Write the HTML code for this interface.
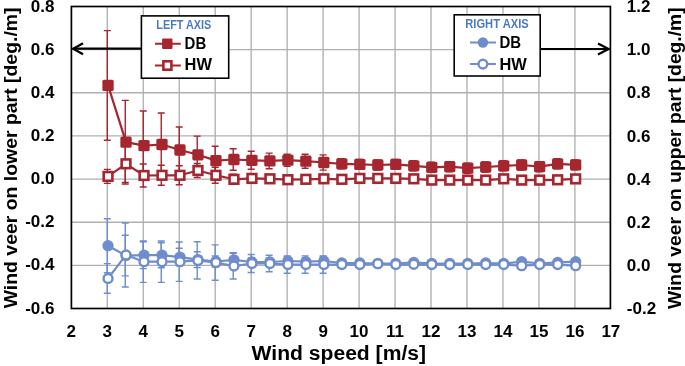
<!DOCTYPE html>
<html><head><meta charset="utf-8"><style>
html,body{margin:0;padding:0;background:#fff;}
body{width:685px;height:366px;overflow:hidden;}
svg{display:block;will-change:transform;}
</style></head><body>
<svg width="685" height="366" viewBox="0 0 685 366">
<rect width="685" height="366" fill="#fff"/>
<path d="M107.29 6.5V308.5M143.26 6.5V308.5M179.23 6.5V308.5M215.2 6.5V308.5M251.17 6.5V308.5M287.14 6.5V308.5M323.11 6.5V308.5M359.08 6.5V308.5M395.05 6.5V308.5M431.02 6.5V308.5M466.99 6.5V308.5M502.96 6.5V308.5M538.93 6.5V308.5M574.9 6.5V308.5M71.4 49.64H610.4M71.4 92.79H610.4M71.4 135.93H610.4M71.4 179.07H610.4M71.4 222.21H610.4M71.4 265.36H610.4" stroke="#B0B0B0" stroke-width="1.35" fill="none"/>
<g stroke="#A5262E" stroke-width="1.4" fill="none"><path d="M107.29 30.6V140.2M103.79 30.6H110.79M103.79 140.2H110.79"/><path d="M125.27 100.4V184M121.77 100.4H128.77M121.77 184H128.77"/><path d="M143.26 111V180.2M139.76 111H146.76M139.76 180.2H146.76"/><path d="M161.25 113V176M157.75 113H164.75M157.75 176H164.75"/><path d="M179.23 127V173M175.73 127H182.73M175.73 173H182.73"/><path d="M197.21 136.1V173.5M193.71 136.1H200.71M193.71 173.5H200.71"/><path d="M215.2 146.3V174.9M211.7 146.3H218.7M211.7 174.9H218.7"/><path d="M233.19 148.7V170.3M229.69 148.7H236.69M229.69 170.3H236.69"/><path d="M251.17 151.3V169.3M247.67 151.3H254.67M247.67 169.3H254.67"/><path d="M269.15 153.1V168.7M265.65 153.1H272.65M265.65 168.7H272.65"/><path d="M287.14 154.2V166.2M283.64 154.2H290.64M283.64 166.2H290.64"/><path d="M305.12 154.2V168.2M301.62 154.2H308.62M301.62 168.2H308.62"/><path d="M323.11 154.9V170.1M319.61 154.9H326.61M319.61 170.1H326.61"/><path d="M341.09 158.8V168.8M337.59 158.8H344.59M337.59 168.8H344.59"/><path d="M359.08 159.4V169.4M355.58 159.4H362.58M355.58 169.4H362.58"/><path d="M377.06 160V170M373.56 160H380.56M373.56 170H380.56"/><path d="M395.05 159.4V169.4M391.55 159.4H398.55M391.55 169.4H398.55"/><path d="M413.03 160.8V170.8M409.53 160.8H416.53M409.53 170.8H416.53"/><path d="M431.02 162.3V172.3M427.52 162.3H434.52M427.52 172.3H434.52"/><path d="M449 161.7V171.7M445.5 161.7H452.5M445.5 171.7H452.5"/><path d="M466.99 163.2V173.2M463.49 163.2H470.49M463.49 173.2H470.49"/><path d="M484.97 162V172M481.47 162H488.47M481.47 172H488.47"/><path d="M502.96 160.8V170.8M499.46 160.8H506.46M499.46 170.8H506.46"/><path d="M520.94 160V170M517.44 160H524.44M517.44 170H524.44"/><path d="M538.93 161.7V171.7M535.43 161.7H542.43M535.43 171.7H542.43"/><path d="M556.91 158.8V168.8M553.41 158.8H560.41M553.41 168.8H560.41"/><path d="M574.9 159.9V169.9M571.4 159.9H578.4M571.4 169.9H578.4"/></g>
<g stroke="#A5262E" stroke-width="1.4" fill="none"><path d="M107.29 169.4V183.4M103.79 169.4H110.79M103.79 183.4H110.79"/><path d="M125.27 145.2V182.4M121.77 145.2H128.77M121.77 182.4H128.77"/><path d="M143.26 164V187M139.76 164H146.76M139.76 187H146.76"/><path d="M161.25 165.3V185.3M157.75 165.3H164.75M157.75 185.3H164.75"/><path d="M179.23 165.8V184.8M175.73 165.8H182.73M175.73 184.8H182.73"/><path d="M197.21 163.5V177.5M193.71 163.5H200.71M193.71 177.5H200.71"/><path d="M215.2 167.3V183.3M211.7 167.3H218.7M211.7 183.3H218.7"/><path d="M233.19 174.3V184.3M229.69 174.3H236.69M229.69 184.3H236.69"/><path d="M251.17 174.4V182.4M247.67 174.4H254.67M247.67 182.4H254.67"/><path d="M269.15 175.8V181.8M265.65 175.8H272.65M265.65 181.8H272.65"/><path d="M287.14 176.7V182.7M283.64 176.7H290.64M283.64 182.7H290.64"/><path d="M305.12 176.3V182.3M301.62 176.3H308.62M301.62 182.3H308.62"/><path d="M323.11 175.8V181.8M319.61 175.8H326.61M319.61 181.8H326.61"/><path d="M341.09 176.3V182.3M337.59 176.3H344.59M337.59 182.3H344.59"/><path d="M359.08 175.4V181.4M355.58 175.4H362.58M355.58 181.4H362.58"/><path d="M377.06 175.4V181.4M373.56 175.4H380.56M373.56 181.4H380.56"/><path d="M395.05 175.4V181.4M391.55 175.4H398.55M391.55 181.4H398.55"/><path d="M413.03 175.8V181.8M409.53 175.8H416.53M409.53 181.8H416.53"/><path d="M431.02 177.1V183.1M427.52 177.1H434.52M427.52 183.1H434.52"/><path d="M449 177.1V183.1M445.5 177.1H452.5M445.5 183.1H452.5"/><path d="M466.99 177.1V183.1M463.49 177.1H470.49M463.49 183.1H470.49"/><path d="M484.97 177.1V183.1M481.47 177.1H488.47M481.47 183.1H488.47"/><path d="M502.96 175.8V181.8M499.46 175.8H506.46M499.46 181.8H506.46"/><path d="M520.94 177.1V183.1M517.44 177.1H524.44M517.44 183.1H524.44"/><path d="M538.93 177.1V183.1M535.43 177.1H542.43M535.43 183.1H542.43"/><path d="M556.91 176.8V182.8M553.41 176.8H560.41M553.41 182.8H560.41"/><path d="M574.9 175.9V181.9M571.4 175.9H578.4M571.4 181.9H578.4"/></g>
<g stroke="#6F8DCC" stroke-width="1.4" fill="none"><path d="M107.29 218.7V272.7M103.79 218.7H110.79M103.79 272.7H110.79"/><path d="M125.27 235.3V275.9M121.77 235.3H128.77M121.77 275.9H128.77"/><path d="M143.26 241.8V268.6M139.76 241.8H146.76M139.76 268.6H146.76"/><path d="M161.25 242.7V267.7M157.75 242.7H164.75M157.75 267.7H164.75"/><path d="M179.23 248.3V265.9M175.73 248.3H182.73M175.73 265.9H182.73"/><path d="M197.21 251.7V267.5M193.71 251.7H200.71M193.71 267.5H200.71"/><path d="M215.2 256V267M211.7 256H218.7M211.7 267H218.7"/><path d="M233.19 252.7V266.9M229.69 252.7H236.69M229.69 266.9H236.69"/><path d="M251.17 258V266M247.67 258H254.67M247.67 266H254.67"/><path d="M269.15 258V266M265.65 258H272.65M265.65 266H272.65"/><path d="M287.14 257V265M283.64 257H290.64M283.64 265H290.64"/><path d="M305.12 257.7V265.7M301.62 257.7H308.62M301.62 265.7H308.62"/><path d="M323.11 257V265M319.61 257H326.61M319.61 265H326.61"/><path d="M341.09 260V266M337.59 260H344.59M337.59 266H344.59"/><path d="M359.08 260V266M355.58 260H362.58M355.58 266H362.58"/><path d="M377.06 260.5V266.5M373.56 260.5H380.56M373.56 266.5H380.56"/><path d="M395.05 260.5V266.5M391.55 260.5H398.55M391.55 266.5H398.55"/><path d="M413.03 259.4V265.4M409.53 259.4H416.53M409.53 265.4H416.53"/><path d="M431.02 260.5V266.5M427.52 260.5H434.52M427.52 266.5H434.52"/><path d="M449 260.5V266.5M445.5 260.5H452.5M445.5 266.5H452.5"/><path d="M466.99 260.5V266.5M463.49 260.5H470.49M463.49 266.5H470.49"/><path d="M484.97 260V266M481.47 260H488.47M481.47 266H488.47"/><path d="M502.96 260.5V266.5M499.46 260.5H506.46M499.46 266.5H506.46"/><path d="M520.94 258.7V264.7M517.44 258.7H524.44M517.44 264.7H524.44"/><path d="M538.93 260.5V266.5M535.43 260.5H542.43M535.43 266.5H542.43"/><path d="M556.91 259.4V265.4M553.41 259.4H560.41M553.41 265.4H560.41"/><path d="M574.9 258.7V264.7M571.4 258.7H578.4M571.4 264.7H578.4"/></g>
<g stroke="#6F8DCC" stroke-width="1.4" fill="none"><path d="M107.29 263.6V293.2M103.79 263.6H110.79M103.79 293.2H110.79"/><path d="M125.27 223V287M121.77 223H128.77M121.77 287H128.77"/><path d="M143.26 241V282.4M139.76 241H146.76M139.76 282.4H146.76"/><path d="M161.25 241V282.4M157.75 241H164.75M157.75 282.4H164.75"/><path d="M179.23 242V281.4M175.73 242H182.73M175.73 281.4H182.73"/><path d="M197.21 241.8V279M193.71 241.8H200.71M193.71 279H200.71"/><path d="M215.2 244.9V280.3M211.7 244.9H218.7M211.7 280.3H218.7"/><path d="M233.19 253.2V279M229.69 253.2H236.69M229.69 279H236.69"/><path d="M251.17 254.5V272.5M247.67 254.5H254.67M247.67 272.5H254.67"/><path d="M269.15 255.2V271.8M265.65 255.2H272.65M265.65 271.8H272.65"/><path d="M287.14 255.9V273.3M283.64 255.9H290.64M283.64 273.3H290.64"/><path d="M305.12 255.9V273.3M301.62 255.9H308.62M301.62 273.3H308.62"/><path d="M323.11 255.9V273.3M319.61 255.9H326.61M319.61 273.3H326.61"/><path d="M341.09 261.6V267.6M337.59 261.6H344.59M337.59 267.6H344.59"/><path d="M359.08 261.6V267.6M355.58 261.6H362.58M355.58 267.6H362.58"/><path d="M377.06 260.7V266.7M373.56 260.7H380.56M373.56 266.7H380.56"/><path d="M395.05 261.6V267.6M391.55 261.6H398.55M391.55 267.6H398.55"/><path d="M413.03 261.3V267.3M409.53 261.3H416.53M409.53 267.3H416.53"/><path d="M431.02 261.6V267.6M427.52 261.6H434.52M427.52 267.6H434.52"/><path d="M449 261.6V267.6M445.5 261.6H452.5M445.5 267.6H452.5"/><path d="M466.99 261.6V267.6M463.49 261.6H470.49M463.49 267.6H470.49"/><path d="M484.97 261.6V267.6M481.47 261.6H488.47M481.47 267.6H488.47"/><path d="M502.96 261.6V267.6M499.46 261.6H506.46M499.46 267.6H506.46"/><path d="M520.94 262.7V268.7M517.44 262.7H524.44M517.44 268.7H524.44"/><path d="M538.93 261.6V267.6M535.43 261.6H542.43M535.43 267.6H542.43"/><path d="M556.91 261.6V267.6M553.41 261.6H560.41M553.41 267.6H560.41"/><path d="M574.9 262.7V268.7M571.4 262.7H578.4M571.4 268.7H578.4"/></g>
<polyline points="108.04,85.4 126.02,142.2 144.01,145.6 162,144.5 179.98,150 197.96,154.8 215.95,160.6 233.94,159.5 251.92,160.3 269.9,160.9 287.89,160.2 305.88,161.2 323.86,162.5 341.84,163.8 359.83,164.4 377.81,165 395.8,164.4 413.78,165.8 431.77,167.3 449.75,166.7 467.74,168.2 485.72,167 503.71,165.8 521.69,165 539.68,166.7 557.66,163.8 575.65,164.9" fill="none" stroke="#A5262E" stroke-width="2.2" stroke-linejoin="round"/>
<g fill="#A5262E"><rect x="102.39" y="79.75" width="11.3" height="11.3" rx="1.6"/><rect x="120.37" y="136.55" width="11.3" height="11.3" rx="1.6"/><rect x="138.36" y="139.95" width="11.3" height="11.3" rx="1.6"/><rect x="156.34" y="138.85" width="11.3" height="11.3" rx="1.6"/><rect x="174.33" y="144.35" width="11.3" height="11.3" rx="1.6"/><rect x="192.31" y="149.15" width="11.3" height="11.3" rx="1.6"/><rect x="210.3" y="154.95" width="11.3" height="11.3" rx="1.6"/><rect x="228.28" y="153.85" width="11.3" height="11.3" rx="1.6"/><rect x="246.27" y="154.65" width="11.3" height="11.3" rx="1.6"/><rect x="264.25" y="155.25" width="11.3" height="11.3" rx="1.6"/><rect x="282.24" y="154.55" width="11.3" height="11.3" rx="1.6"/><rect x="300.23" y="155.55" width="11.3" height="11.3" rx="1.6"/><rect x="318.21" y="156.85" width="11.3" height="11.3" rx="1.6"/><rect x="336.19" y="158.15" width="11.3" height="11.3" rx="1.6"/><rect x="354.18" y="158.75" width="11.3" height="11.3" rx="1.6"/><rect x="372.17" y="159.35" width="11.3" height="11.3" rx="1.6"/><rect x="390.15" y="158.75" width="11.3" height="11.3" rx="1.6"/><rect x="408.13" y="160.15" width="11.3" height="11.3" rx="1.6"/><rect x="426.12" y="161.65" width="11.3" height="11.3" rx="1.6"/><rect x="444.11" y="161.05" width="11.3" height="11.3" rx="1.6"/><rect x="462.09" y="162.55" width="11.3" height="11.3" rx="1.6"/><rect x="480.07" y="161.35" width="11.3" height="11.3" rx="1.6"/><rect x="498.06" y="160.15" width="11.3" height="11.3" rx="1.6"/><rect x="516.04" y="159.35" width="11.3" height="11.3" rx="1.6"/><rect x="534.03" y="161.05" width="11.3" height="11.3" rx="1.6"/><rect x="552.01" y="158.15" width="11.3" height="11.3" rx="1.6"/><rect x="570" y="159.25" width="11.3" height="11.3" rx="1.6"/></g>
<polyline points="108.04,176.4 126.02,163.8 144.01,175.5 162,175.3 179.98,175.3 197.96,170.5 215.95,175.3 233.94,179.3 251.92,178.4 269.9,178.8 287.89,179.7 305.88,179.3 323.86,178.8 341.84,179.3 359.83,178.4 377.81,178.4 395.8,178.4 413.78,178.8 431.77,180.1 449.75,180.1 467.74,180.1 485.72,180.1 503.71,178.8 521.69,180.1 539.68,180.1 557.66,179.8 575.65,178.9" fill="none" stroke="#A5262E" stroke-width="2.2" stroke-linejoin="round"/>
<g fill="#fff" stroke="#A5262E" stroke-width="2.6"><rect x="103.69" y="172.05" width="8.7" height="8.7"/><rect x="121.67" y="159.45" width="8.7" height="8.7"/><rect x="139.66" y="171.15" width="8.7" height="8.7"/><rect x="157.65" y="170.95" width="8.7" height="8.7"/><rect x="175.63" y="170.95" width="8.7" height="8.7"/><rect x="193.61" y="166.15" width="8.7" height="8.7"/><rect x="211.6" y="170.95" width="8.7" height="8.7"/><rect x="229.59" y="174.95" width="8.7" height="8.7"/><rect x="247.57" y="174.05" width="8.7" height="8.7"/><rect x="265.56" y="174.45" width="8.7" height="8.7"/><rect x="283.54" y="175.35" width="8.7" height="8.7"/><rect x="301.53" y="174.95" width="8.7" height="8.7"/><rect x="319.51" y="174.45" width="8.7" height="8.7"/><rect x="337.5" y="174.95" width="8.7" height="8.7"/><rect x="355.48" y="174.05" width="8.7" height="8.7"/><rect x="373.47" y="174.05" width="8.7" height="8.7"/><rect x="391.45" y="174.05" width="8.7" height="8.7"/><rect x="409.44" y="174.45" width="8.7" height="8.7"/><rect x="427.42" y="175.75" width="8.7" height="8.7"/><rect x="445.41" y="175.75" width="8.7" height="8.7"/><rect x="463.39" y="175.75" width="8.7" height="8.7"/><rect x="481.38" y="175.75" width="8.7" height="8.7"/><rect x="499.36" y="174.45" width="8.7" height="8.7"/><rect x="517.34" y="175.75" width="8.7" height="8.7"/><rect x="535.33" y="175.75" width="8.7" height="8.7"/><rect x="553.31" y="175.45" width="8.7" height="8.7"/><rect x="571.3" y="174.55" width="8.7" height="8.7"/></g>
<polyline points="108.04,245.7 126.02,255.6 144.01,255.2 162,255.2 179.98,257.1 197.96,259.6 215.95,261.5 233.94,259.8 251.92,262 269.9,262 287.89,261 305.88,261.7 323.86,261 341.84,263 359.83,263 377.81,263.5 395.8,263.5 413.78,262.4 431.77,263.5 449.75,263.5 467.74,263.5 485.72,263 503.71,263.5 521.69,261.7 539.68,263.5 557.66,262.4 575.65,261.7" fill="none" stroke="#6F8DCC" stroke-width="2.2" stroke-linejoin="round"/>
<g fill="#6F8DCC"><circle cx="108.04" cy="245.7" r="5.65"/><circle cx="126.02" cy="255.6" r="5.65"/><circle cx="144.01" cy="255.2" r="5.65"/><circle cx="162" cy="255.2" r="5.65"/><circle cx="179.98" cy="257.1" r="5.65"/><circle cx="197.96" cy="259.6" r="5.65"/><circle cx="215.95" cy="261.5" r="5.65"/><circle cx="233.94" cy="259.8" r="5.65"/><circle cx="251.92" cy="262" r="5.65"/><circle cx="269.9" cy="262" r="5.65"/><circle cx="287.89" cy="261" r="5.65"/><circle cx="305.88" cy="261.7" r="5.65"/><circle cx="323.86" cy="261" r="5.65"/><circle cx="341.84" cy="263" r="5.65"/><circle cx="359.83" cy="263" r="5.65"/><circle cx="377.81" cy="263.5" r="5.65"/><circle cx="395.8" cy="263.5" r="5.65"/><circle cx="413.78" cy="262.4" r="5.65"/><circle cx="431.77" cy="263.5" r="5.65"/><circle cx="449.75" cy="263.5" r="5.65"/><circle cx="467.74" cy="263.5" r="5.65"/><circle cx="485.72" cy="263" r="5.65"/><circle cx="503.71" cy="263.5" r="5.65"/><circle cx="521.69" cy="261.7" r="5.65"/><circle cx="539.68" cy="263.5" r="5.65"/><circle cx="557.66" cy="262.4" r="5.65"/><circle cx="575.65" cy="261.7" r="5.65"/></g>
<polyline points="108.04,278.4 126.02,255 144.01,261.7 162,261.7 179.98,261.7 197.96,260.4 215.95,262.6 233.94,266.1 251.92,263.5 269.9,263.5 287.89,264.6 305.88,264.6 323.86,264.6 341.84,264.6 359.83,264.6 377.81,263.7 395.8,264.6 413.78,264.3 431.77,264.6 449.75,264.6 467.74,264.6 485.72,264.6 503.71,264.6 521.69,265.7 539.68,264.6 557.66,264.6 575.65,265.7" fill="none" stroke="#6F8DCC" stroke-width="2.2" stroke-linejoin="round"/>
<g fill="#fff" stroke="#6F8DCC" stroke-width="2.4"><circle cx="108.04" cy="278.4" r="4.45"/><circle cx="126.02" cy="255" r="4.45"/><circle cx="144.01" cy="261.7" r="4.45"/><circle cx="162" cy="261.7" r="4.45"/><circle cx="179.98" cy="261.7" r="4.45"/><circle cx="197.96" cy="260.4" r="4.45"/><circle cx="215.95" cy="262.6" r="4.45"/><circle cx="233.94" cy="266.1" r="4.45"/><circle cx="251.92" cy="263.5" r="4.45"/><circle cx="269.9" cy="263.5" r="4.45"/><circle cx="287.89" cy="264.6" r="4.45"/><circle cx="305.88" cy="264.6" r="4.45"/><circle cx="323.86" cy="264.6" r="4.45"/><circle cx="341.84" cy="264.6" r="4.45"/><circle cx="359.83" cy="264.6" r="4.45"/><circle cx="377.81" cy="263.7" r="4.45"/><circle cx="395.8" cy="264.6" r="4.45"/><circle cx="413.78" cy="264.3" r="4.45"/><circle cx="431.77" cy="264.6" r="4.45"/><circle cx="449.75" cy="264.6" r="4.45"/><circle cx="467.74" cy="264.6" r="4.45"/><circle cx="485.72" cy="264.6" r="4.45"/><circle cx="503.71" cy="264.6" r="4.45"/><circle cx="521.69" cy="265.7" r="4.45"/><circle cx="539.68" cy="264.6" r="4.45"/><circle cx="557.66" cy="264.6" r="4.45"/><circle cx="575.65" cy="265.7" r="4.45"/></g>
<rect x="71.4" y="6.5" width="539" height="302" fill="none" stroke="#000" stroke-width="1.7"/>
<!-- arrows -->
<g stroke="#000" stroke-width="2.2" fill="none" stroke-linecap="butt">
<path d="M73 48.7H141.5"/>
<path d="M83 43.2L73.2 48.7L83 54.2" stroke-linejoin="miter"/>
<path d="M540 49H609"/>
<path d="M598 43.5L608.6 49L598 54.5" stroke-linejoin="miter"/>
</g>
<!-- left legend -->
<rect x="141.4" y="15.9" width="87.3" height="62.3" fill="#fff" stroke="#000" stroke-width="1.6"/>
<text x="183.8" y="29.2" text-anchor="middle" style="font-family:'Liberation Sans',sans-serif;font-weight:bold;font-size:12px" fill="#4A78C8" textLength="55" lengthAdjust="spacingAndGlyphs">LEFT AXIS</text>
<path d="M155 43.8H180.8M155 65.6H180.8" stroke="#A5262E" stroke-width="2"/>
<rect x="162.1" y="38.4" width="10.4" height="10.6" fill="#A5262E" rx="1"/>
<rect x="163.4" y="61.3" width="8.0" height="8.4" fill="#fff" stroke="#A5262E" stroke-width="2.6"/>
<text x="184.6" y="48.7" style="font-family:'Liberation Sans',sans-serif;font-weight:bold;font-size:16.5px" textLength="21.6" lengthAdjust="spacingAndGlyphs">DB</text>
<text x="184.6" y="70.1" style="font-family:'Liberation Sans',sans-serif;font-weight:bold;font-size:16.5px" textLength="27.4" lengthAdjust="spacingAndGlyphs">HW</text>
<!-- right legend -->
<rect x="454.2" y="14.8" width="86" height="61.2" fill="#fff" stroke="#000" stroke-width="1.6"/>
<text x="497" y="28.1" text-anchor="middle" style="font-family:'Liberation Sans',sans-serif;font-weight:bold;font-size:12px" fill="#4A78C8" textLength="63.4" lengthAdjust="spacingAndGlyphs">RIGHT AXIS</text>
<path d="M470 42.5H495.9M470 64.1H495.9" stroke="#6F8DCC" stroke-width="2"/>
<circle cx="482.9" cy="42.5" r="5.2" fill="#6F8DCC"/>
<circle cx="482.9" cy="64.1" r="4.4" fill="#fff" stroke="#6F8DCC" stroke-width="2.4"/>
<text x="499.4" y="48.0" style="font-family:'Liberation Sans',sans-serif;font-weight:bold;font-size:16.5px" textLength="21.6" lengthAdjust="spacingAndGlyphs">DB</text>
<text x="499.4" y="69.5" style="font-family:'Liberation Sans',sans-serif;font-weight:bold;font-size:16.5px" textLength="27.4" lengthAdjust="spacingAndGlyphs">HW</text>
<g style="font-family:'Liberation Sans',sans-serif;font-weight:bold;font-size:17px" fill="#000"><text x="54.5" y="11.5" text-anchor="end">0.8</text><text x="626.8" y="12.1">1.2</text><text x="54.5" y="54.64" text-anchor="end">0.6</text><text x="626.8" y="55.24">1.0</text><text x="54.5" y="97.79" text-anchor="end">0.4</text><text x="626.8" y="98.39">0.8</text><text x="54.5" y="140.93" text-anchor="end">0.2</text><text x="626.8" y="141.53">0.6</text><text x="54.5" y="184.07" text-anchor="end">0.0</text><text x="626.8" y="184.67">0.4</text><text x="54.5" y="227.21" text-anchor="end">-0.2</text><text x="626.8" y="227.81">0.2</text><text x="54.5" y="270.36" text-anchor="end">-0.4</text><text x="626.8" y="270.96">0.0</text><text x="54.5" y="313.5" text-anchor="end">-0.6</text><text x="626.8" y="314.1">-0.2</text><text x="71.32" y="336.5" text-anchor="middle">2</text><text x="107.29" y="336.5" text-anchor="middle">3</text><text x="143.26" y="336.5" text-anchor="middle">4</text><text x="179.23" y="336.5" text-anchor="middle">5</text><text x="215.2" y="336.5" text-anchor="middle">6</text><text x="251.17" y="336.5" text-anchor="middle">7</text><text x="287.14" y="336.5" text-anchor="middle">8</text><text x="323.11" y="336.5" text-anchor="middle">9</text><text x="359.08" y="336.5" text-anchor="middle">10</text><text x="395.05" y="336.5" text-anchor="middle">11</text><text x="431.02" y="336.5" text-anchor="middle">12</text><text x="466.99" y="336.5" text-anchor="middle">13</text><text x="502.96" y="336.5" text-anchor="middle">14</text><text x="538.93" y="336.5" text-anchor="middle">15</text><text x="574.9" y="336.5" text-anchor="middle">16</text><text x="610.87" y="336.5" text-anchor="middle">17</text></g>
<text x="338.8" y="360.4" text-anchor="middle" style="font-family:'Liberation Sans',sans-serif;font-weight:bold;font-size:20px" textLength="174.4" lengthAdjust="spacingAndGlyphs">Wind speed [m/s]</text>
<text transform="translate(17.2 157.9) rotate(-90)" text-anchor="middle" style="font-family:'Liberation Sans',sans-serif;font-weight:bold;font-size:18.5px" textLength="300.9" lengthAdjust="spacingAndGlyphs">Wind veer on lower part [deg./m]</text>
<text transform="translate(680.8 158.2) rotate(-90)" text-anchor="middle" style="font-family:'Liberation Sans',sans-serif;font-weight:bold;font-size:18.5px" textLength="301.6" lengthAdjust="spacingAndGlyphs">Wind veer on upper part [deg./m]</text>
</svg>
</body></html>
